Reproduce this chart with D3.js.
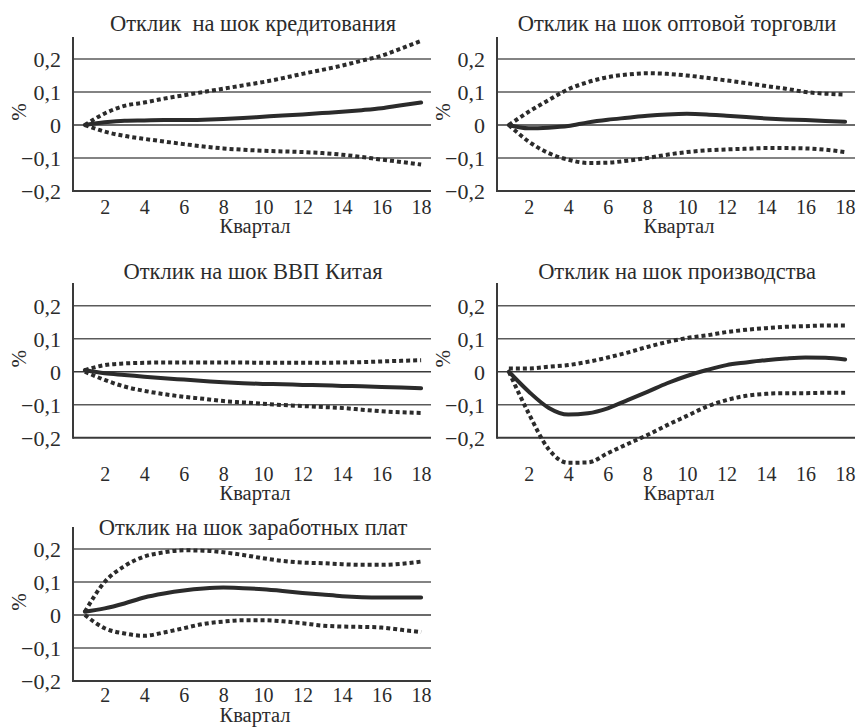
<!DOCTYPE html>
<html>
<head>
<meta charset="utf-8">
<script src="https://cdn.jsdelivr.net/npm/d3@7"></script>
<style>
  body { margin: 0; background: #fff; }
  text { font-family: "Liberation Serif", "DejaVu Serif", serif; fill: #2b2b2b; }
</style>
</head>
<body>
<div id="chart"></div>
<script>
// quarters and tick labels
var quarters = d3.range(1, 19);
var xTicks = [2, 4, 6, 8, 10, 12, 14, 16, 18];
var yTicks = [-0.2, -0.1, 0, 0.1, 0.2];

var titles = [
  "Отклик  на шок кредитования",
  "Отклик на шок оптовой торговли",
  "Отклик на шок ВВП Китая",
  "Отклик на шок производства",
  "Отклик на шок заработных плат"
];

// response (solid) and bands (dotted)
var credit_mid = [0, 0.008, 0.013, 0.014, 0.015, 0.015, 0.016, 0.018, 0.021, 0.025, 0.029, 0.032, 0.036, 0.04, 0.045, 0.051, 0.06, 0.068];
var credit_hi  = [0, 0.035, 0.058, 0.068, 0.08, 0.09, 0.1, 0.11, 0.12, 0.13, 0.142, 0.155, 0.167, 0.18, 0.195, 0.21, 0.232, 0.255];
var credit_lo  = [0, -0.02, -0.033, -0.042, -0.05, -0.058, -0.065, -0.071, -0.075, -0.078, -0.08, -0.082, -0.085, -0.09, -0.097, -0.105, -0.112, -0.12];

var trade_mid = [0, -0.01, -0.008, -0.003, 0.008, 0.016, 0.022, 0.028, 0.032, 0.034, 0.032, 0.028, 0.024, 0.02, 0.017, 0.015, 0.012, 0.01];
var trade_hi  = [0, 0.04, 0.075, 0.108, 0.13, 0.145, 0.153, 0.157, 0.155, 0.15, 0.143, 0.135, 0.127, 0.118, 0.11, 0.1, 0.095, 0.092];
var trade_lo  = [0, -0.05, -0.085, -0.105, -0.115, -0.114, -0.108, -0.1, -0.09, -0.082, -0.077, -0.074, -0.072, -0.07, -0.07, -0.071, -0.075, -0.082];

var china_mid = [0.005, -0.005, -0.01, -0.015, -0.02, -0.024, -0.028, -0.032, -0.035, -0.037, -0.038, -0.04, -0.041, -0.043, -0.044, -0.046, -0.048, -0.05];
var china_hi  = [0.005, 0.02, 0.025, 0.027, 0.028, 0.028, 0.028, 0.028, 0.028, 0.027, 0.027, 0.027, 0.027, 0.028, 0.029, 0.031, 0.033, 0.035];
var china_lo  = [0, -0.025, -0.045, -0.058, -0.068, -0.076, -0.082, -0.089, -0.093, -0.097, -0.101, -0.104, -0.107, -0.11, -0.115, -0.12, -0.123, -0.125];

var prod_mid = [0, -0.06, -0.109, -0.13, -0.126, -0.111, -0.086, -0.061, -0.035, -0.013, 0.005, 0.02, 0.028, 0.035, 0.04, 0.043, 0.042, 0.037];
var prod_hi  = [0.01, 0.01, 0.015, 0.02, 0.03, 0.043, 0.058, 0.075, 0.09, 0.102, 0.11, 0.12, 0.127, 0.132, 0.136, 0.138, 0.14, 0.14];
var prod_lo  = [0, -0.126, -0.234, -0.276, -0.275, -0.247, -0.219, -0.192, -0.162, -0.134, -0.106, -0.086, -0.073, -0.067, -0.065, -0.065, -0.064, -0.064];

var wage_mid = [0.01, 0.02, 0.035, 0.053, 0.065, 0.074, 0.08, 0.083, 0.081, 0.078, 0.073, 0.067, 0.062, 0.057, 0.054, 0.053, 0.053, 0.053];
var wage_hi  = [0.01, 0.1, 0.148, 0.177, 0.19, 0.196, 0.195, 0.19, 0.182, 0.172, 0.164, 0.159, 0.157, 0.154, 0.152, 0.152, 0.155, 0.162];
var wage_lo  = [0, -0.04, -0.056, -0.063, -0.053, -0.04, -0.027, -0.02, -0.016, -0.016, -0.019, -0.025, -0.032, -0.035, -0.036, -0.038, -0.045, -0.052];

var series = [
  [credit_mid, credit_hi, credit_lo],
  [trade_mid, trade_hi, trade_lo],
  [china_mid, china_hi, china_lo],
  [prod_mid, prod_hi, prod_lo],
  [wage_mid, wage_hi, wage_lo]
];

// panel placement
var layout = [
  {left: 73,  zero: 125,   top: 37,  title: 31,  ticks: 214, kv: 233},
  {left: 497, zero: 125,   top: 37,  title: 31,  ticks: 214, kv: 233},
  {left: 73,  zero: 371.7, top: 283, title: 279, ticks: 481, kv: 500},
  {left: 497, zero: 371.7, top: 283, title: 279, ticks: 481, kv: 500},
  {left: 73,  zero: 615,   top: 527, title: 535, ticks: 702, kv: 722}
];

var width = 861, height = 727, pw = 358;

var svg = d3.select('#chart').append('svg')
    .attr('width', width)
    .attr('height', height);

var fmt = function(d){ return d === 0 ? "0" : d3.format(".1f")(d).replace(".", ","); };

layout.forEach(function(p, i){
    var g = svg.append('g');

    var x = d3.scaleLinear().domain([0.4, 18.5]).range([p.left, p.left + pw]);
    var y = d3.scaleLinear().domain([-0.2, 0.2]).range([p.zero + 66, p.zero - 66]);

    // grid lines
    g.selectAll('line.grid')
        .data(yTicks.filter(function(d){ return d > -0.2; }))
        .enter().append('line')
        .attr('class', 'grid')
        .attr('x1', p.left).attr('x2', p.left + pw)
        .attr('y1', function(d){ return y(d); })
        .attr('y2', function(d){ return y(d); })
        .attr('stroke', function(d){ return d === 0 ? '#3a3a3a' : '#5a5a5a'; })
        .attr('stroke-width', 1.6);

    // axes lines
    g.append('line')
        .attr('x1', p.left).attr('x2', p.left + pw)
        .attr('y1', y(-0.2)).attr('y2', y(-0.2))
        .attr('stroke', '#3a3a3a').attr('stroke-width', 2);
    g.append('line')
        .attr('x1', p.left).attr('x2', p.left)
        .attr('y1', p.top).attr('y2', y(-0.2) + 1)
        .attr('stroke', '#3a3a3a').attr('stroke-width', 2);

    // y labels
    var yAxis = g.append('g')
        .attr('transform', 'translate(' + (p.left - 12) + ',0)')
        .call(d3.axisLeft(y).tickValues(yTicks).tickSize(0).tickFormat(fmt));
    yAxis.select('.domain').remove();
    yAxis.selectAll('text')
        .attr('x', 0).attr('dy', '0.34em')
        .style('font-size', '22px')
        .style('font-family', '"Liberation Serif", serif')
        .attr('fill', '#2b2b2b');

    // x labels
    var xAxis = g.append('g')
        .attr('transform', 'translate(0,' + p.ticks + ')')
        .call(d3.axisBottom(x).tickValues(xTicks).tickSize(0).tickFormat(d3.format('d')));
    xAxis.select('.domain').remove();
    xAxis.selectAll('text')
        .attr('y', 0).attr('dy', 0)
        .style('font-size', '20px')
        .style('font-family', '"Liberation Serif", serif')
        .attr('fill', '#2b2b2b');

    g.append('text')
        .attr('x', x(9.6)).attr('y', p.kv)
        .attr('text-anchor', 'middle')
        .style('font-size', '20.5px')
        .text('Квартал');

    g.append('text')
        .attr('transform', 'translate(' + (p.left - 54) + ',' + (p.zero - 13) + ') rotate(-90)')
        .attr('text-anchor', 'middle')
        .attr('dy', '0.35em')
        .style('font-size', '21px')
        .text('%');

    g.append('text')
        .attr('x', p.left + 180).attr('y', p.title)
        .attr('text-anchor', 'middle')
        .style('font-size', '22.5px')
        .style('white-space', 'pre')
        .text(titles[i]);

    var line = d3.line()
        .x(function(d, k){ return x(quarters[k]); })
        .y(function(d){ return y(d); })
        .curve(d3.curveMonotoneX);

    var s = series[i];
    [s[1], s[2]].forEach(function(band){
        g.append('path')
            .datum(band)
            .attr('fill', 'none')
            .attr('stroke', '#2b2b2b')
            .attr('stroke-width', 4)
            .attr('stroke-dasharray', '4,3')
            .attr('d', line);
    });
    g.append('path')
        .datum(s[0])
        .attr('fill', 'none')
        .attr('stroke', '#2b2b2b')
        .attr('stroke-width', 4)
        .attr('stroke-linecap', 'round')
        .attr('d', line);
});
</script>
</body>
</html>
